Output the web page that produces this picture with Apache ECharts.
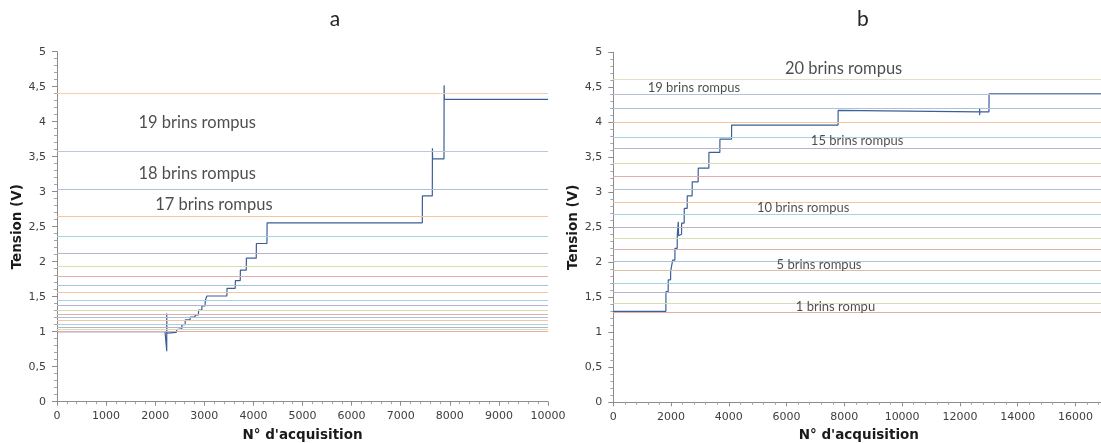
<!DOCTYPE html>
<html><head><meta charset="utf-8">
<script src="https://cdn.jsdelivr.net/npm/echarts@6/dist/echarts.min.js"></script>
<style>html,body{margin:0;padding:0;background:#fff}#c{width:1101px;height:443px}</style>
</head><body><div id="c"></div>
<script>
// ---- Data ----
const yTicks = [0, 0.5, 1, 1.5, 2, 2.5, 3, 3.5, 4, 4.5, 5];
// Panel a curve
const aX = [0,2200,2232,2235,2235,2238,2430,2440,2540,2545,2610,2612,2710,2714,2810,2816,2880,2884,2950,2952,3015,3020,3050,3054,3460,3463,3630,3633,3732,3735,3855,3857,4058,4061,4276,4279,7440,7442,7644,7646,7650,7882,7884,7890,10000];
const aY = [1.0,1.0,1.0,0.72,1.26,0.98,0.99,1.03,1.04,1.10,1.10,1.17,1.17,1.21,1.21,1.24,1.24,1.31,1.31,1.37,1.37,1.45,1.45,1.51,1.51,1.62,1.62,1.73,1.73,1.88,1.88,2.05,2.05,2.26,2.26,2.555,2.555,2.94,2.94,3.62,3.47,3.47,4.52,4.32,4.32];
// Panel a thresholds
const aLevels = [1.006,1.039,1.071,1.114,1.157,1.206,1.249,1.31,1.381,1.453,1.567,1.667,1.786,1.943,2.12,2.357,2.653,3.03,3.58,4.406];
const aLabels = ["19 brins rompus","18 brins rompus","17 brins rompus"];
const aLabelX = [1659,1659,2000];
const aLabelY = [3.98,3.263,2.81];
// Panel b curve
const bX = [0,1820,1823,1900,1903,1983,1986,2052,2055,2132,2135,2212,2215,2250,2260,2363,2366,2454,2457,2558,2561,2730,2733,2938,2941,3308,3311,3689,3692,4094,4097,7782,7785,7790,12680,12685,12685,12690,13007,13010,17000];
const bY = [1.30,1.30,1.58,1.58,1.75,1.75,1.87,1.87,2.03,2.03,2.20,2.20,2.39,2.58,2.38,2.40,2.56,2.56,2.77,2.77,2.95,2.95,3.15,3.15,3.345,3.345,3.57,3.57,3.76,3.76,3.96,3.96,4.17,4.15,4.15,4.2,4.1,4.15,4.15,4.405,4.405];
// Panel b thresholds
const bLevels = [1.294,1.406,1.566,1.7,1.88,2.023,2.186,2.343,2.5,2.686,2.857,3.043,3.233,3.423,3.628,3.794,4.0,4.2,4.4,4.614];
const bLabels = ["20 brins rompus","19 brins rompus","15 brins rompus","10 brins rompus","5 brins rompus","1 brins rompu"];
const bLabelX = [5941,1190,6840,4972,5654,6321];
const bLabelY = [4.771,4.494,3.733,2.776,1.961,1.357];
const bLabelSize = [16.5,13,13,13,13,13];

// ---- Styles ----
const palette = ['#e0aeac','#d6dfb2','#bdb1d0','#a3d4e2','#f7c6a0','#aac1de'];
const aColors = aLevels.map((v,i)=>palette[i%6]);
aColors[18] = '#bcc7d8'; aColors[19] = '#f7cfae';
const bColors = bLevels.map((v,i)=>palette[i%6]);
bColors[18] = '#b7c2d4'; bColors[19] = '#e6dfbf';
bColors[4] = '#d9bfa8';
const curveColor = '#3d5f97';
const tickFont = {fontFamily:'DejaVu Sans', fontSize:11, color:'#404040'};
const fmtY = v => String(v).replace('.', ',');
const fmtX = v => String(v);

function yAxis(idx){
  return {gridIndex:idx, type:'value', min:0, max:5, interval:0.5,
    name:'Tension (V)', nameLocation:'middle', nameGap: idx===0?32:30, nameRotate:90,
    nameTextStyle:{fontFamily:'DejaVu Sans', fontWeight:'bold', fontSize:13.5, color:'#1a1a1a'},
    axisLine:{show:true, lineStyle:{color:'#8c8c8c'}},
    axisTick:{show:true, length:5, lineStyle:{color:'#8c8c8c'}},
    minorTick:{show:true, splitNumber:5, length:3, lineStyle:{color:'#a6a6a6'}},
    splitLine:{show:false},
    axisLabel:Object.assign({margin:11, formatter:fmtY}, tickFont)};
}
function xAxis(idx, max, interval){
  return {gridIndex:idx, type:'value', min:0, max:max, interval:interval,
    name:"N° d'acquisition", nameLocation:'middle', nameGap:26.5,
    nameTextStyle:{fontFamily:'DejaVu Sans', fontWeight:'bold', fontSize:13.5, color:'#1a1a1a'},
    axisLine:{show:true, onZero:false, lineStyle:{color:'#8c8c8c'}},
    axisTick:{show:true, length:4, lineStyle:{color:'#8c8c8c'}},
    minorTick:{show:true, splitNumber:5, length:2.5, lineStyle:{color:'#a6a6a6'}},
    splitLine:{show:false},
    axisLabel:Object.assign({margin:9, formatter:fmtX, showMaxLabel: idx===0, showMinLabel:true}, tickFont)};
}
function levelSeries(idx, levels, colors){
  return {type:'line', xAxisIndex:idx, yAxisIndex:idx, data:[], z:2, silent:true,
    markLine:{silent:true, symbol:'none', label:{show:false}, animation:false,
      data: levels.map((v,i)=>({yAxis:v, lineStyle:{color:colors[i], width:1, type:'solid'}}))}};
}
function zip(xs, ys){ return xs.map((x,i)=>[x, ys[i]]); }
function labelSeries(idx, xs, ys, texts, sizes){
  return {type:'scatter', xAxisIndex:idx, yAxisIndex:idx, symbolSize:0, silent:true, z:5,
    data: xs.map((x,i)=>({value:[x, ys[i]], label:{show:true, position:'right', distance:0, formatter:texts[i],
      fontFamily:'Lato', fontSize:sizes[i], color:'#1f1f1f'}}))};
}

const chart = echarts.init(document.getElementById('c'), null, {renderer:'canvas'});
chart.setOption({
  animation:false,
  backgroundColor:'#fff',
  title:[
    {text:'a', left:330, top:4, textAlign:'center', textStyle:{fontFamily:'Lato', fontWeight:'normal', fontSize:21, color:'#262626'}},
    {text:'b', left:858, top:4, textAlign:'center', textStyle:{fontFamily:'Lato', fontWeight:'normal', fontSize:21, color:'#262626'}}
  ],
  grid:[
    {left:57, right:553, top:51.7, bottom:41.3, containLabel:false, outerBoundsMode:'none'},
    {left:613.3, right:-3.3, top:52.3, bottom:40.7, containLabel:false, outerBoundsMode:'none'}
  ],
  xAxis:[xAxis(0,10000,1000), xAxis(1,17000,2000)],
  yAxis:[yAxis(0), yAxis(1)],
  series:[
    levelSeries(0, aLevels, aColors),
    levelSeries(1, bLevels, bColors),
    {type:'line', xAxisIndex:0, yAxisIndex:0, data:zip(aX,aY), showSymbol:false, z:4,
      lineStyle:{color:curveColor, width:1.2}},
    {type:'line', xAxisIndex:1, yAxisIndex:1, data:zip(bX,bY), showSymbol:false, z:4,
      lineStyle:{color:curveColor, width:1.2}},
    labelSeries(0, aLabelX, aLabelY, aLabels, [16.5,16.5,16.5]),
    labelSeries(1, bLabelX, bLabelY, bLabels, bLabelSize)
  ]
});
</script></body></html>
